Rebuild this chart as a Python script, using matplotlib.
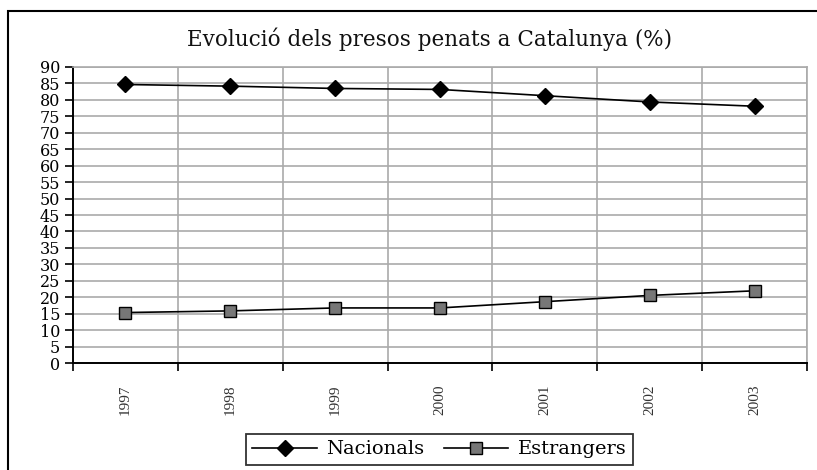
import numpy as np
import matplotlib.pyplot as plt
from matplotlib.patches import Rectangle

# data
years = ["1997", "1998", "1999", "2000", "2001", "2002", "2003"]
nacionals = [84.6, 84.1, 83.4, 83.1, 81.2, 79.3, 78.0]
estrangers = [15.4, 15.9, 16.8, 16.8, 18.7, 20.6, 22.0]

plt.rcParams["font.family"] = ["DejaVu Serif"]

W, H = 817, 470
fig = plt.figure(figsize=(W / 100, H / 100), dpi=100)
ax = fig.add_axes([72.7 / W, 1 - 363.3 / H, (807.3 - 72.7) / W, (363.3 - 66.7) / H])

x = np.arange(len(years))
ax.plot(x, nacionals, color="black", lw=1.2, marker="D", ms=8,
        mfc="black", mec="black", label="Nacionals", zorder=3)
ax.plot(x, estrangers, color="black", lw=1.2, marker="s", ms=9,
        mfc="#777777", mec="black", mew=1.0, label="Estrangers", zorder=3)

ax.set_xlim(-0.5, len(years) - 0.5)
ax.set_ylim(0, 90)
ax.set_yticks(np.arange(0, 91, 5))
ax.tick_params(axis="y", labelsize=11.5, length=6, width=1.2, pad=3, colors="black")

# category labels at centres, ticks/grid at the boundaries
ax.set_xticks(x)
ax.set_xticklabels(years, rotation=90, fontsize=11, color="#333333",
                   family=["Liberation Serif"])
ax.tick_params(axis="x", length=0, pad=15)
ax.set_xticks(np.arange(-0.5, len(years), 1), minor=True)
ax.tick_params(axis="x", which="minor", length=6, width=1.2)

ax.grid(True, axis="y", color="#aaaaaa", lw=1.2)
ax.grid(True, axis="x", which="minor", color="#aaaaaa", lw=1.2)
ax.set_axisbelow(True)

for s in ["top", "right"]:
    ax.spines[s].set_color("#aaaaaa")
    ax.spines[s].set_linewidth(1.2)
for s in ["left", "bottom"]:
    ax.spines[s].set_color("black")
    ax.spines[s].set_linewidth(1.4)

fig.text(430 / W, 1 - 39 / H, "Evolució dels presos penats a Catalunya (%)",
         ha="center", va="center", fontsize=15.5, color="#111111")

leg = fig.legend(loc="center", bbox_to_anchor=(439.5 / W, 1 - 449.5 / H),
                 ncol=2, fontsize=14, frameon=True, fancybox=False,
                 edgecolor="black", handlelength=3.3, columnspacing=1.0,
                 handletextpad=0.5, borderpad=0.35)
leg.get_frame().set_linewidth(1.3)

# outer frame (only top and left visible in the picture)
fig.add_artist(Rectangle((8 / W, -0.1), 1.2, 1.1 - 11 / H, transform=fig.transFigure,
                         fill=False, edgecolor="black", lw=1.5))

fig.savefig("out.png", dpi=100)
